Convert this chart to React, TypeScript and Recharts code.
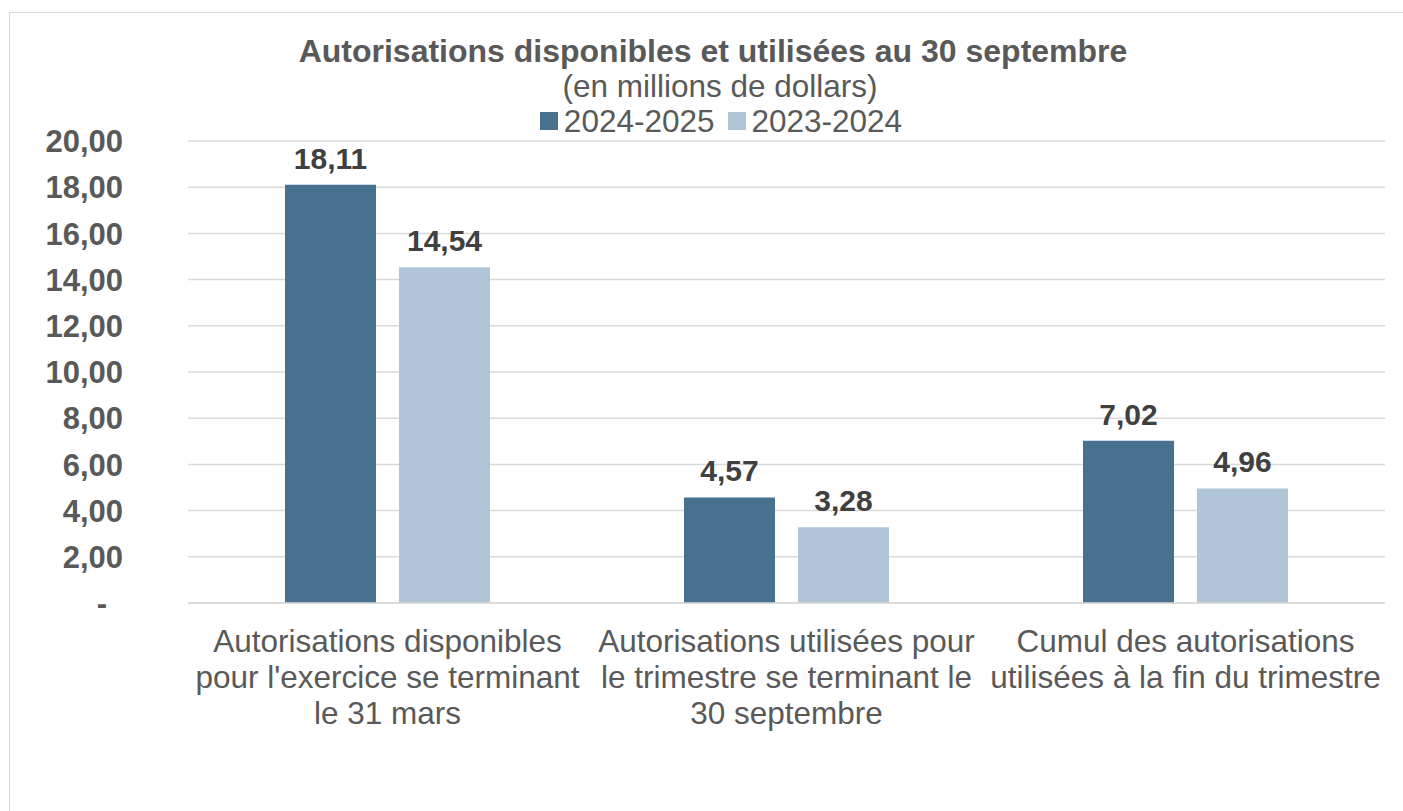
import {
  BarChart,
  Bar,
  XAxis,
  YAxis,
  CartesianGrid,
  Legend,
  LabelList,
} from "recharts";

const categories = [
  "Autorisations disponibles\npour l'exercice se terminant\nle 31 mars",
  "Autorisations utilisées pour\nle trimestre se terminant le\n30 septembre",
  "Cumul des autorisations\nutilisées à la fin du trimestre",
];
const values2024 = [18.11, 4.57, 7.02];
const values2023 = [14.54, 3.28, 4.96];
const seriesNames = ["2024-2025", "2023-2024"];
const yTicks = [0, 2, 4, 6, 8, 10, 12, 14, 16, 18, 20];

const data = categories.map((name, i) => ({
  name,
  a: values2024[i],
  b: values2023[i],
}));

const FONT = "'Liberation Sans', Arial, sans-serif";
const GRAY = "#595959";
const DARK = "#48708f";
const LIGHT = "#b0c6d8";
const GRID = "#d9d9d9";

const fmt = (v: number) => v.toFixed(2).replace(".", ",");

function YTick({ x, y, payload }: any) {
  const v = payload.value as number;
  if (v === 0) {
    return (
      <text x={x - 16} y={y} dy="0.36em" textAnchor="end" fill={GRAY}
        fontSize={31} fontWeight="bold" fontFamily={FONT}>-</text>
    );
  }
  return (
    <text x={x} y={y} dy="0.36em" textAnchor="end" fill={GRAY}
      fontSize={31} fontWeight="bold" fontFamily={FONT}>
      {fmt(v)}
    </text>
  );
}

function XTick({ x, y, payload }: any) {
  const lines = String(payload.value).split("\n");
  return (
    <text x={x} y={y} textAnchor="middle" fill={GRAY} fontSize={31.5} fontFamily={FONT}>
      {lines.map((l, i) => (
        <tspan key={i} x={x} dy={i === 0 ? 49 : 36}>{l}</tspan>
      ))}
    </text>
  );
}

function LegendContent({ payload }: any) {
  const items = [...(payload || [])].sort(
    (p: any, q: any) => seriesNames.indexOf(p.value) - seriesNames.indexOf(q.value)
  );
  return (
    <div style={{ display: "flex", justifyContent: "center", alignItems: "center", gap: 13 }}>
      {items.map((p: any) => (
        <div key={p.value} style={{ display: "flex", alignItems: "center" }}>
          <span style={{ width: 18, height: 18, background: p.color, display: "inline-block", marginRight: 6 }} />
          <span style={{ fontSize: 31.5, color: GRAY, fontFamily: FONT, lineHeight: "36px" }}>{p.value}</span>
        </div>
      ))}
    </div>
  );
}

export default function App() {
  return (
    <div style={{ position: "absolute", left: 0, top: 0, width: 1403, height: 811, overflow: "hidden", background: "#fff" }}>
      <div style={{ position: "absolute", left: 9, top: 12, width: 1430, height: 830, border: `1px solid ${GRID}` }} />
      <div style={{ position: "absolute", left: 0, width: 1426, top: 33, textAlign: "center", fontFamily: FONT, fontSize: 32, fontWeight: "bold", color: GRAY, lineHeight: "36px" }}>
        Autorisations disponibles et utilisées au 30 septembre
      </div>
      <div style={{ position: "absolute", left: 0, width: 1440, top: 68, textAlign: "center", fontFamily: FONT, fontSize: 31.5, color: GRAY, lineHeight: "36px" }}>
        (en millions de dollars)
      </div>
      <div style={{ position: "absolute", left: 0, top: 0 }}>
        <BarChart
          width={1403}
          height={811}
          data={data}
          margin={{ top: 141, right: 18, bottom: 88, left: 0 }}
          barSize={91}
          barGap={23}
        >
          <CartesianGrid vertical={false} stroke={GRID} strokeWidth={1.5} />
          <XAxis
            dataKey="name"
            height={120}
            tickSize={0}
            tickMargin={0}
            axisLine={{ stroke: GRID, strokeWidth: 1.5 }}
            tickLine={false}
            tick={<XTick />}
            interval={0}
          />
          <YAxis
            width={188}
            domain={[0, 20]}
            ticks={yTicks}
            tickSize={0}
            tickMargin={65}
            axisLine={false}
            tickLine={false}
            tick={<YTick />}
            interval={0}
          />
          <Legend
            verticalAlign="middle"
            align="center"
            layout="horizontal"
            content={<LegendContent />}
            wrapperStyle={{ top: 103, left: 0, width: 1442 }}
          />
          <Bar dataKey="a" name={seriesNames[0]} fill={DARK} isAnimationActive={false}>
            <LabelList dataKey="a" position="top" offset={16} formatter={(v: any) => fmt(Number(v))}
              style={{ fontSize: 30, fontWeight: "bold", fill: "#404040", fontFamily: FONT }} />
          </Bar>
          <Bar dataKey="b" name={seriesNames[1]} fill={LIGHT} isAnimationActive={false}>
            <LabelList dataKey="b" position="top" offset={16} formatter={(v: any) => fmt(Number(v))}
              style={{ fontSize: 30, fontWeight: "bold", fill: "#404040", fontFamily: FONT }} />
          </Bar>
        </BarChart>
      </div>
    </div>
  );
}
